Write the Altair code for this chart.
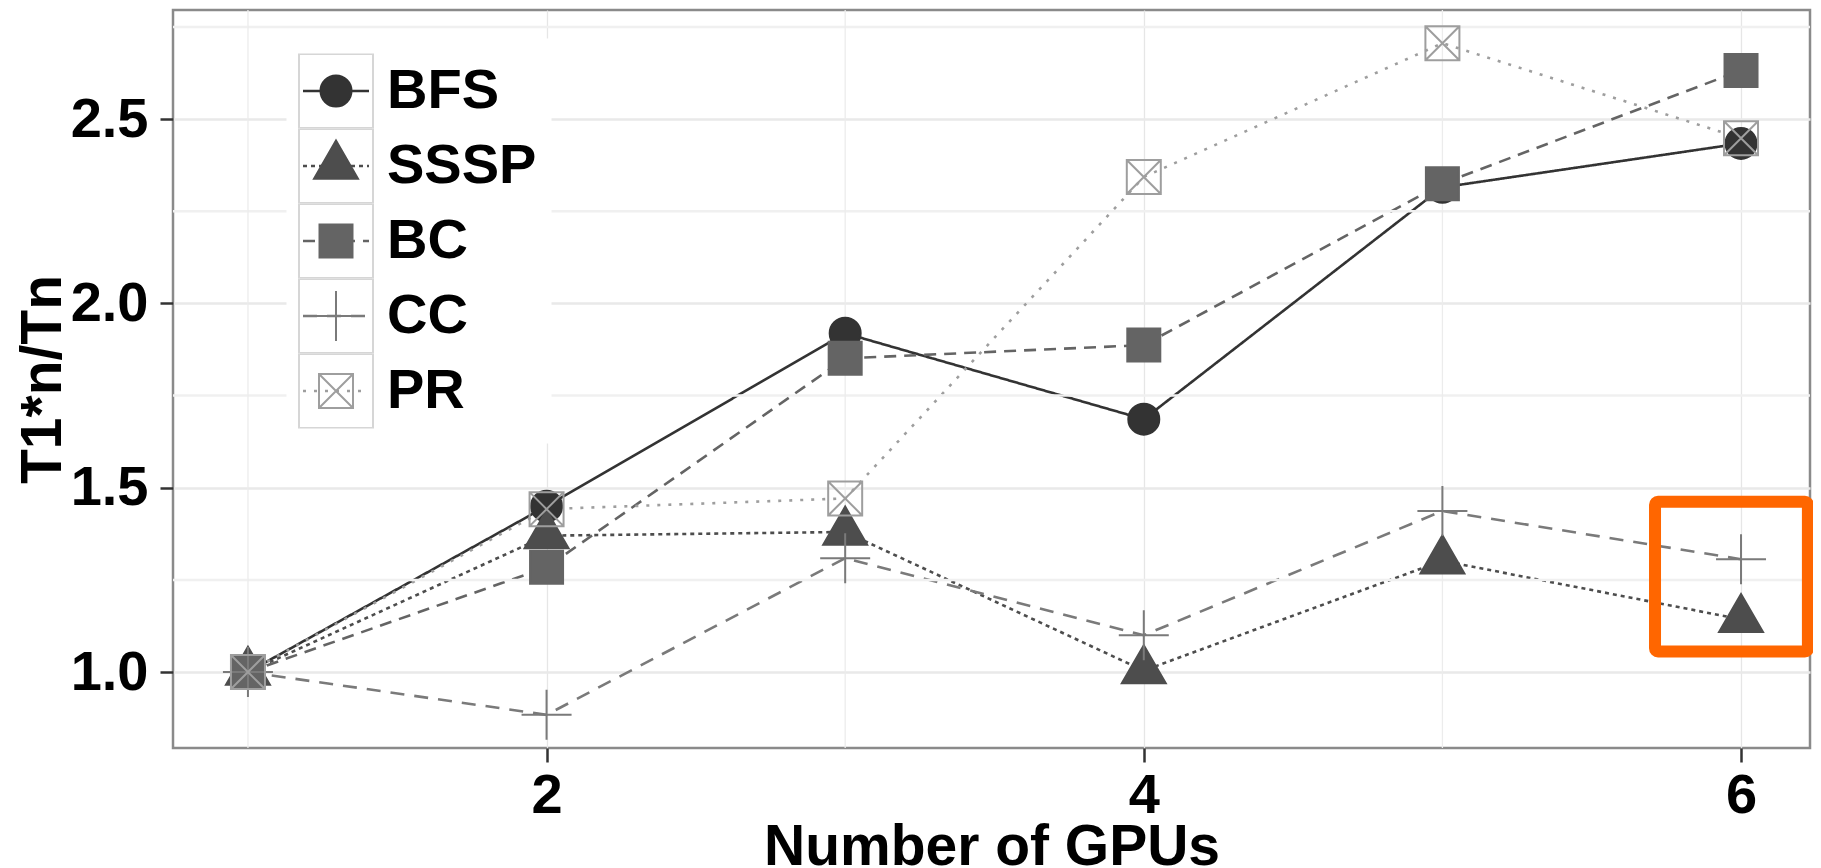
import altair as alt
import pandas as pd

# ---- data ----
gpus = [1, 2, 3, 4, 5, 6]
series_names = ["BFS", "SSSP", "BC", "CC", "PR"]
bfs = [1.0, 1.45, 1.919, 1.686, 2.315, 2.434]
sssp = [1.0, 1.37, 1.38, 1.004, 1.302, 1.143]
bc = [1.0, 1.284, 1.851, 1.887, 2.325, 2.632]
cc = [1.0, 0.884, 1.309, 1.100, 1.437, 1.306]
pr = [1.0, 1.442, 1.471, 2.343, 2.706, 2.448]

x_ticks = [2, 4, 6]
x_minor = [1, 3, 5]
y_ticks = [1.0, 1.5, 2.0, 2.5]
y_minor = [1.25, 1.75, 2.25, 2.75]
highlight_x = [5.712, 6.224]
highlight_y = [1.056, 1.462]

# ---- styles ----
FONT = "Liberation Sans, Arial, Helvetica, sans-serif"
line_colors = ["#333333", "#4d4d4d", "#646464", "#7a7a7a", "#9e9e9e"]
fill_colors = ["#333333", "#4d4d4d", "#646464", "transparent", "transparent"]
dashes = [[1, 0], [4, 4], [12, 8], [14, 10], [3, 8]]
shape_paths = [
    "M-0.62,0A0.62,0.62,0,1,1,0.62,0A0.62,0.62,0,1,1,-0.62,0Z",
    "M0,-1.016L0.88,0.508L-0.88,0.508Z",
    "M-0.66,-0.66L0.66,-0.66L0.66,0.66L-0.66,0.66Z",
    "M-1,0L1,0M0,-1L0,1",
    "M-0.68,-0.68L0.68,-0.68L0.68,0.68L-0.68,0.68ZM-0.68,-0.68L0.68,0.68M0.68,-0.68L-0.68,0.68",
]

values = [bfs, sssp, bc, cc, pr]
rows = []
for name, vals in zip(series_names, values):
    for g, v in zip(gpus, vals):
        rows.append({"gpus": g, "value": v, "series": name,
                     "series_b": name + " ", "series_c": name + "  "})
df = pd.DataFrame(rows)
dom_a = series_names
dom_b = [n + " " for n in series_names]
dom_c = [n + "  " for n in series_names]

xscale = alt.Scale(domain=[0.749, 6.231], nice=False, zero=False)
yscale = alt.Scale(domain=[0.794, 2.796], nice=False, zero=False)

W, H = 1637, 738

x_axis = alt.Axis(values=x_ticks, title="Number of GPUs", grid=True, gridColor="#e6e6e6",
                  gridWidth=1.3, domain=False, tickSize=14, tickWidth=2.5, tickColor="#333333",
                  labelFont=FONT, labelFontSize=56, labelFontWeight="bold", labelColor="black",
                  labelPadding=6, labelFlush=False, titleFont=FONT, titleFontSize=57,
                  titleFontWeight="bold", titleColor="black", titleX=W / 2, titleY=116,
                  titleAlign="center", titleBaseline="alphabetic", format="d")
y_axis = alt.Axis(values=y_ticks, title="T1*n/Tn", grid=True, gridColor="#e9e9e9",
                  gridWidth=2.5, domain=False, tickSize=13, tickWidth=2.5, tickColor="#333333",
                  labelFont=FONT, labelFontSize=56, labelFontWeight="bold", labelColor="black",
                  labelPadding=12, labelFlush=False, format=".1f", titleFont=FONT,
                  titleFontSize=57, titleFontWeight="bold", titleColor="black",
                  titleAngle=270, titleX=-113, titleY=H / 2, titleAlign="center",
                  titleBaseline="alphabetic")

base = alt.Chart(df)

# minor grid
minor_y = alt.Chart(pd.DataFrame({"y": y_minor})).mark_rule(color="#f0f0f0", strokeWidth=2.5).encode(
    y=alt.Y("y:Q", scale=yscale, axis=y_axis))
minor_x = alt.Chart(pd.DataFrame({"x": x_minor})).mark_rule(color="#ececec", strokeWidth=1.3).encode(
    x=alt.X("x:Q", scale=xscale, axis=x_axis))

legend_a = alt.Legend(orient="none", legendX=113.5, legendY=28.5, title=None, symbolType="stroke",
                      symbolSize=4356, symbolStrokeWidth=2.5, clipHeight=75, rowPadding=0,
                      padding=15, fillColor="white", labelFont=FONT, labelFontSize=56,
                      labelFontWeight="bold", labelColor="black", labelOffset=16.5, zindex=1)
legend_b = alt.Legend(orient="none", legendX=135, legendY=43.5, title=None, symbolSize=2500,
                      symbolStrokeWidth=2, clipHeight=75, rowPadding=0, padding=0,
                      labelFont=FONT, labelFontSize=56, labelExpr="''", zindex=3)
legend_c = alt.Legend(orient="none", legendX=125, legendY=43.5, title=None, symbolSize=5476,
                      symbolType="square", symbolStrokeWidth=2, symbolStrokeColor="#d6d6d6",
                      symbolFillColor="transparent", symbolOpacity=1,
                      clipHeight=75, rowPadding=0, padding=0, labelFont=FONT, labelFontSize=56,
                      labelExpr="''", zindex=2)

lines = base.mark_line(strokeWidth=2.6).encode(
    x=alt.X("gpus:Q", scale=xscale, axis=x_axis),
    y=alt.Y("value:Q", scale=yscale, axis=y_axis),
    color=alt.Color("series:N", scale=alt.Scale(domain=dom_a, range=line_colors), legend=legend_a),
    strokeDash=alt.StrokeDash("series:N", scale=alt.Scale(domain=dom_a, range=dashes), legend=legend_a),
)

# legend-only layer for the key boxes (no rows survive the filter)
boxes = base.transform_filter("datum.value > 100").mark_point(
    shape="square", filled=False, color="#d6d6d6", strokeWidth=2).encode(
    x=alt.X("gpus:Q", scale=xscale, axis=x_axis),
    y=alt.Y("value:Q", scale=yscale, axis=y_axis),
    opacity=alt.Opacity("series_c:N", scale=alt.Scale(domain=dom_c, range=[1, 1, 1, 1, 1]),
                        legend=legend_c),
)

points = base.mark_point(size=2500, filled=False, strokeWidth=2, opacity=1).encode(
    x=alt.X("gpus:Q", scale=xscale, axis=x_axis),
    y=alt.Y("value:Q", scale=yscale, axis=y_axis),
    shape=alt.Shape("series_b:N", scale=alt.Scale(domain=dom_b, range=shape_paths), legend=legend_b),
    fill=alt.Fill("series_b:N", scale=alt.Scale(domain=dom_b, range=fill_colors), legend=legend_b),
    stroke=alt.Stroke("series_b:N", scale=alt.Scale(domain=dom_b, range=line_colors), legend=legend_b),
)

hl = alt.Chart(pd.DataFrame({"x1": [highlight_x[0]], "x2": [highlight_x[1]],
                             "y1": [highlight_y[0]], "y2": [highlight_y[1]]})).mark_rect(
    fill="transparent", stroke="#ff6600", strokeWidth=12, cornerRadius=3).encode(
    x=alt.X("x1:Q", scale=xscale, axis=x_axis), x2="x2:Q",
    y=alt.Y("y1:Q", scale=yscale, axis=y_axis), y2="y2:Q")

chart = alt.layer(lines, minor_y, minor_x, boxes, points, hl).properties(
    width=W, height=H, autosize=alt.AutoSizeParams(type="none"),
    padding={"left": 165, "top": 2, "right": 3, "bottom": 120},
    background="white",
).configure_view(stroke="#8a8a8a", strokeWidth=2.5)

chart.save("out.html", embed_options={"renderer": "svg", "actions": False})
